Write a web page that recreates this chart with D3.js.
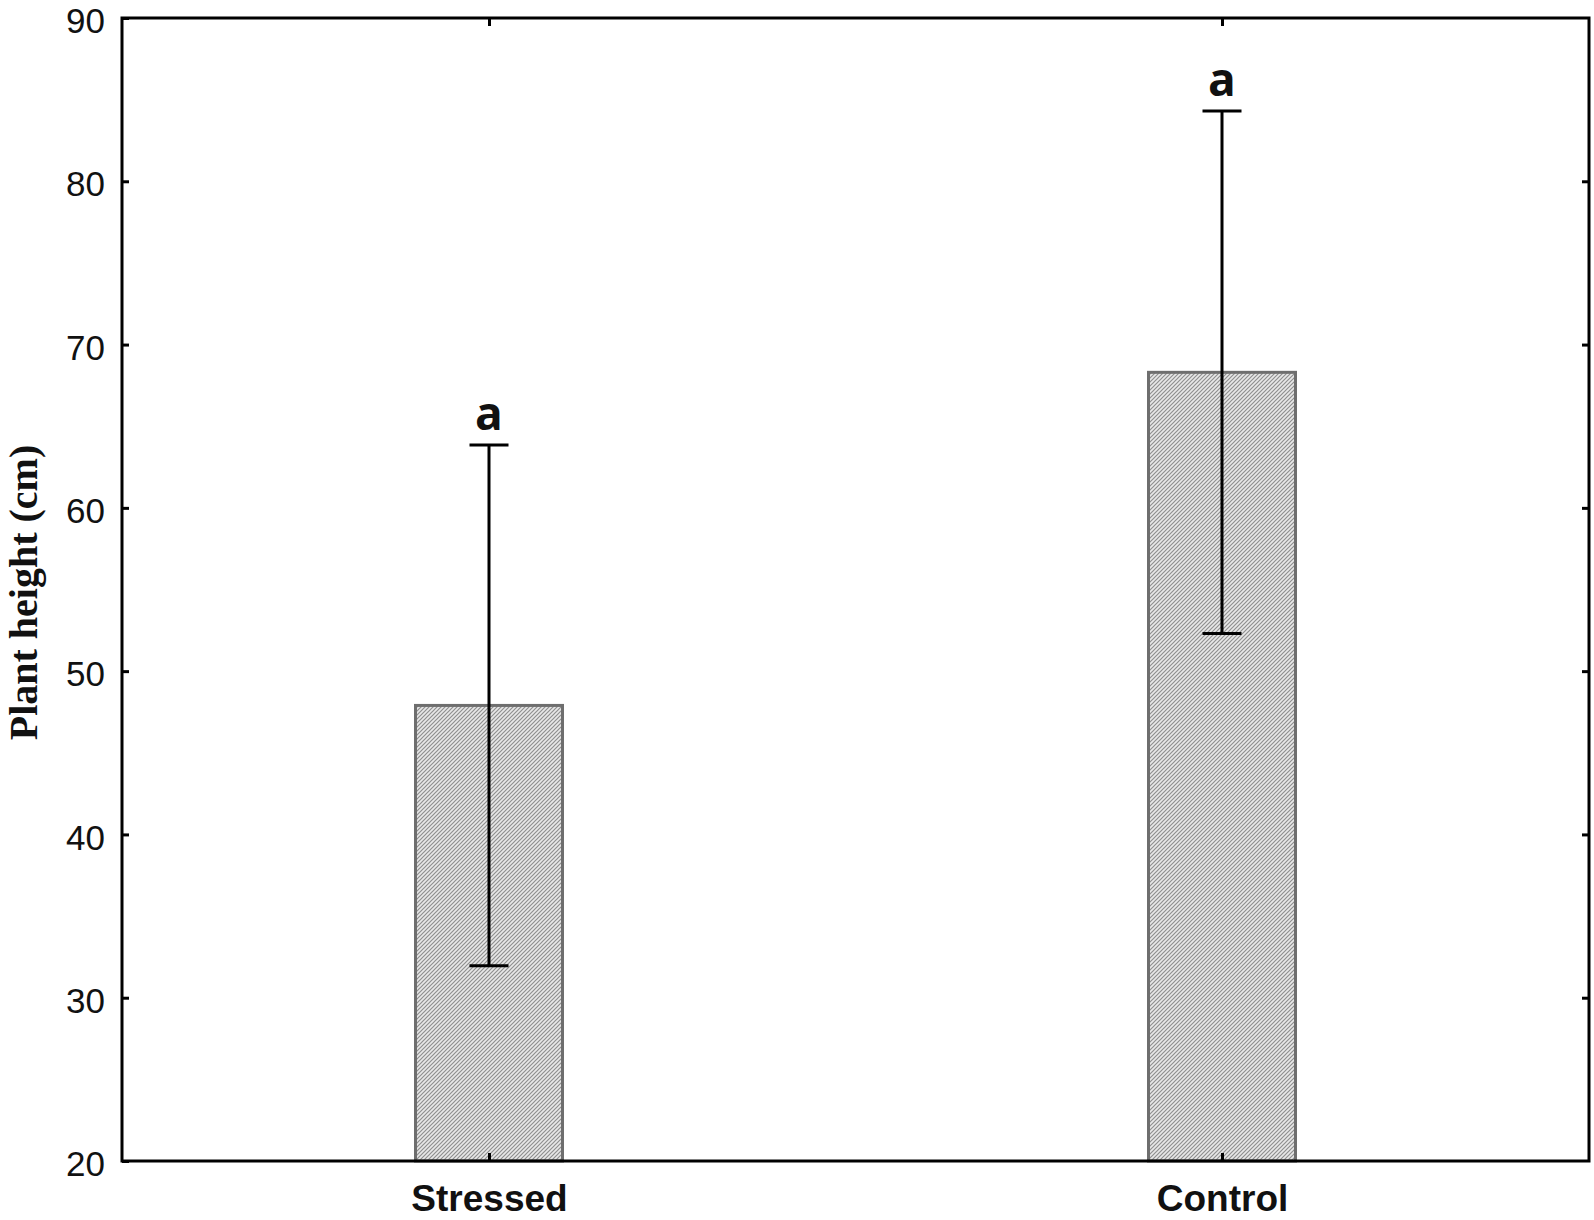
<!DOCTYPE html>
<html><head><meta charset="utf-8">
<script src="https://cdn.jsdelivr.net/npm/d3@7"></script>
<style>html,body{margin:0;padding:0;background:#fff;}</style>
</head><body>
<svg id="chart" width="1594" height="1220"></svg>
<script>
const categories = ["Stressed", "Control"];
const means = [47.9, 68.3];
const errors = [15.95, 16.0];
const letters = ["a", "a"];
const yTicks = [20, 30, 40, 50, 60, 70, 80, 90];
const yLabel = "Plant height (cm)";

const svg = d3.select("#chart");
const L = 122, R = 1589, T = 18, B = 1161;
const y = d3.scaleLinear().domain([20, 90]).range([B, T]);
const x = d3.scalePoint().domain(categories).range([489, 1222]);
const barW = 147;

const defs = svg.append("defs");
const pat = defs.append("pattern").attr("id", "hatch").attr("patternUnits", "userSpaceOnUse")
  .attr("width", 4).attr("height", 4);
pat.append("rect").attr("width", 4).attr("height", 4).attr("fill", "#e8e8e8");
pat.append("path").attr("d", "M-1,1 l2,-2 M0,4 l4,-4 M3,5 l2,-2").attr("stroke", "#8f8f8f").attr("stroke-width", 1.2);

// bars
svg.selectAll("rect.bar").data(categories).enter().append("rect").attr("class", "bar")
  .attr("x", d => x(d) - barW / 2).attr("width", barW)
  .attr("y", (d, i) => y(means[i])).attr("height", (d, i) => y(20) - y(means[i]))
  .attr("fill", "url(#hatch)").attr("stroke", "#6e6e6e").attr("stroke-width", 3);

// axes (ticks inward)
const fmt = d3.format("d");
svg.append("g").attr("transform", `translate(${L},0)`)
  .call(d3.axisLeft(y).tickValues(yTicks).tickSizeInner(-7).tickSizeOuter(0).tickPadding(17).tickFormat(fmt))
  .call(g => g.select(".domain").remove())
  .call(g => g.selectAll("line").attr("stroke", "#000").attr("stroke-width", 3))
  .call(g => g.selectAll("text").attr("font-family", "Liberation Sans, Arial, sans-serif").attr("font-size", 35)
    .attr("dy", "0.42em").attr("fill", "#111"));
svg.append("g").attr("transform", `translate(${R},0)`)
  .call(d3.axisRight(y).tickValues(yTicks.filter(v => v > 20 && v < 90)).tickSizeInner(-7).tickSizeOuter(0).tickFormat(""))
  .call(g => g.select(".domain").remove())
  .call(g => g.selectAll("line").attr("stroke", "#000").attr("stroke-width", 3));
svg.append("g").attr("transform", `translate(0,${B})`)
  .call(d3.axisBottom(x).tickSizeInner(-8).tickSizeOuter(0).tickPadding(24))
  .call(g => g.select(".domain").remove())
  .call(g => g.selectAll("line").attr("stroke", "#000").attr("stroke-width", 3))
  .call(g => g.selectAll("text").attr("font-family", "Liberation Sans, Arial, sans-serif").attr("font-weight", "bold").attr("font-size", 37).attr("fill", "#111"));
svg.append("g").attr("transform", `translate(0,${T})`)
  .call(d3.axisTop(x).tickSizeInner(-8).tickSizeOuter(0).tickFormat(""))
  .call(g => g.select(".domain").remove())
  .call(g => g.selectAll("line").attr("stroke", "#000").attr("stroke-width", 3));

// frame
svg.append("rect").attr("x", L).attr("y", T).attr("width", R - L).attr("height", B - T)
  .attr("fill", "none").attr("stroke", "#000").attr("stroke-width", 3);

// error bars
const capW = 39;
const eg = svg.append("g").attr("stroke", "#000").attr("stroke-width", 3);
categories.forEach((c, i) => {
  const cx = x(c), hi = y(means[i] + errors[i]), lo = y(means[i] - errors[i]);
  eg.append("line").attr("x1", cx).attr("x2", cx).attr("y1", hi).attr("y2", lo);
  eg.append("line").attr("x1", cx - capW / 2).attr("x2", cx + capW / 2).attr("y1", hi).attr("y2", hi);
  eg.append("line").attr("x1", cx - capW / 2).attr("x2", cx + capW / 2).attr("y1", lo).attr("y2", lo);
  svg.append("text").attr("x", cx).attr("y", hi - 15).attr("text-anchor", "middle")
    .attr("font-family", "Open Sans, sans-serif").attr("font-weight", "bold").attr("font-size", 46)
    .attr("fill", "#111").text(letters[i]);
});

// y label
svg.append("text").attr("transform", `translate(37,${(T + B) / 2 + 3}) rotate(-90)`)
  .attr("text-anchor", "middle").attr("font-family", "Liberation Serif, Times New Roman, serif")
  .attr("font-weight", "bold").attr("font-size", 40).attr("fill", "#111").text(yLabel);
</script>
</body></html>
